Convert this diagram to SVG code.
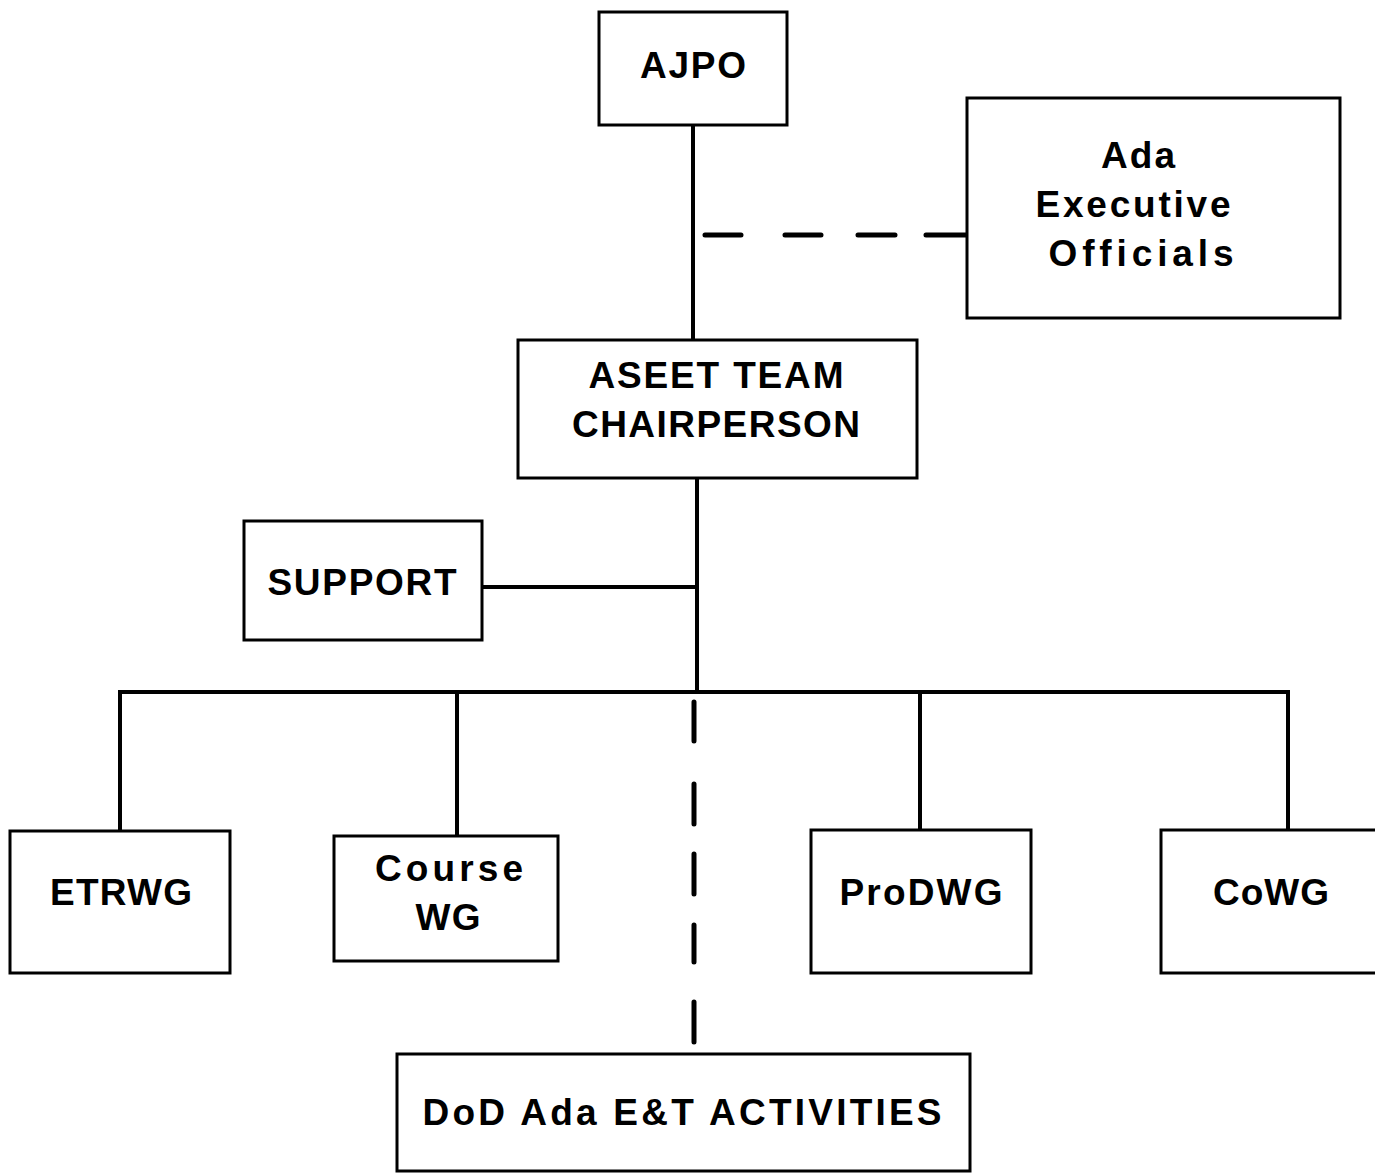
<svg xmlns="http://www.w3.org/2000/svg" width="1375" height="1174" viewBox="0 0 1375 1174">
<style>
.box{fill:#fff;stroke:#000;stroke-width:3}
.ln{fill:none;stroke:#000;stroke-width:4;stroke-linecap:butt}
.dash{fill:none;stroke:#000;stroke-width:5;stroke-linecap:round}
text{font-family:"Liberation Sans",Arial,sans-serif;font-weight:bold;font-size:37px;fill:#000;text-anchor:middle}
</style>
<rect width="1375" height="1174" fill="#fff"/>
<g id="connectors">
<path class="ln" d="M693 125V340"/>
<path class="dash" d="M705 235H741M785 235H821M858 235H895M926 235H966"/>
<path class="ln" d="M697 478V692"/>
<path class="ln" d="M482 587H697"/>
<path class="ln" d="M118 692H1290"/>
<path class="ln" d="M120 692V831M457 692V836M920 692V830M1288 692V830"/>
<path class="dash" d="M694 702V741M694 784V824M694 854V894M694 925V962M694 1002V1042"/>
</g>
<g id="ajpo"><rect class="box" x="599" y="12" width="188" height="113"/><text x="693" y="78" textLength="106" lengthAdjust="spacing">AJPO</text></g>
<g id="ada-exec"><rect class="box" x="967" y="98" width="373" height="220"/>
<text x="1138" y="168" textLength="74" lengthAdjust="spacing">Ada</text>
<text x="1133" y="217" textLength="195" lengthAdjust="spacing">Executive</text>
<text x="1141" y="266" textLength="185" lengthAdjust="spacing">Officials</text></g>
<g id="aseet"><rect class="box" x="518" y="340" width="399" height="138"/>
<text x="716" y="388" textLength="255" lengthAdjust="spacing">ASEET TEAM</text>
<text x="716" y="437" textLength="288" lengthAdjust="spacing">CHAIRPERSON</text></g>
<g id="support"><rect class="box" x="244" y="521" width="238" height="119"/><text x="362" y="595" textLength="189" lengthAdjust="spacing">SUPPORT</text></g>
<g id="etrwg"><rect class="box" x="10" y="831" width="220" height="142"/><text x="121" y="905" textLength="142" lengthAdjust="spacing">ETRWG</text></g>
<g id="course-wg"><rect class="box" x="334" y="836" width="224" height="125"/>
<text x="449" y="881" textLength="148" lengthAdjust="spacing">Course</text>
<text x="448" y="930" textLength="65" lengthAdjust="spacing">WG</text></g>
<g id="prodwg"><rect class="box" x="811" y="830" width="220" height="143"/><text x="921" y="905" textLength="163" lengthAdjust="spacing">ProDWG</text></g>
<g id="cowg"><rect class="box" x="1161" y="830" width="222" height="143"/><text x="1271" y="905" textLength="116" lengthAdjust="spacing">CoWG</text></g>
<g id="dod"><rect class="box" x="397" y="1054" width="573" height="117"/><text x="682" y="1125" textLength="519" lengthAdjust="spacing">DoD Ada E&amp;T ACTIVITIES</text></g>
</svg>
